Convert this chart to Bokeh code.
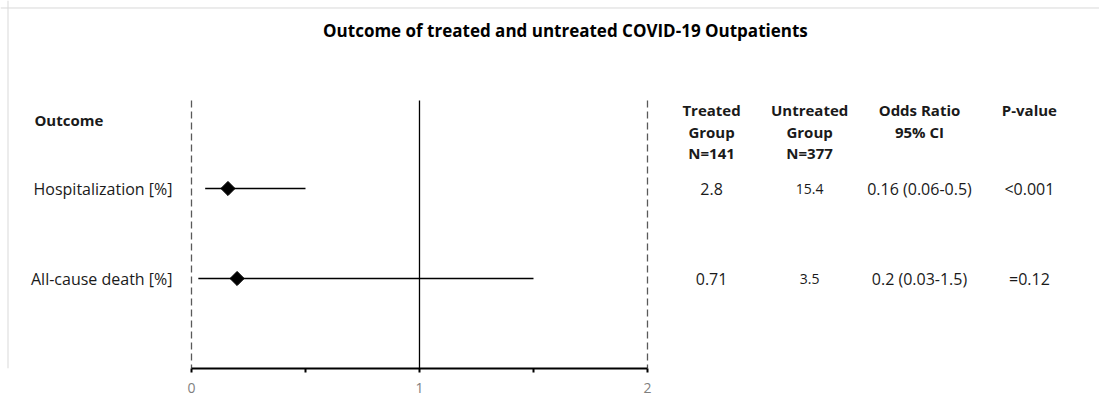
from bokeh.plotting import figure
from bokeh.models import Range1d, LinearAxis, FixedTicker, ColumnDataSource, Span
from bokeh.core.properties import value
from bokeh.embed import file_html
from bokeh.resources import INLINE

# ---- data ----
title_text = "Outcome of treated and untreated COVID-19 Outpatients"
outcomes = ["Hospitalization [%]", "All-cause death [%]"]
odds_ratio = [0.16, 0.2]
ci_low = [0.06, 0.03]
ci_high = [0.5, 1.5]
treated = ["2.8", "0.71"]
untreated = ["15.4", "3.5"]
or_ci = ["0.16 (0.06-0.5)", "0.2 (0.03-1.5)"]
p_values = ["<0.001", "=0.12"]
col_headers = [["Treated", "Group", "N=141"],
               ["Untreated", "Group", "N=377"],
               ["Odds Ratio", "95% CI"],
               ["P-value"]]
axis_ticks = [0, 1, 2]
axis_minor = [0.5, 1.5]
ref_line = 1
bound_lines = [0, 2]

FONT = "Open Sans"

W, H = 1099, 400
p = figure(width=W, height=H, output_backend="svg", toolbar_location=None,
           x_range=Range1d(-0.8377, 3.9825), y_range=Range1d(2.0, -2.0889),
           min_border_left=0, min_border_right=0, min_border_top=0,
           min_border_bottom=32, x_axis_location=None, y_axis_location=None)
p.grid.visible = False
p.outline_line_color = None
p.background_fill_color = "white"
p.border_fill_color = "white"

# faint chart-area border (top and left)
p.add_layout(Span(location=-2.0056, dimension="width", line_color="#d9d9d9",
                  line_width=1))
p.add_layout(Span(location=-0.8048, dimension="height", line_color="#d9d9d9",
                  line_width=1))

# axis
ax = LinearAxis(ticker=FixedTicker(ticks=axis_ticks, minor_ticks=axis_minor),
                bounds=(0, 2))
ax.axis_line_width = 2
ax.axis_line_color = "black"
ax.major_tick_in = 0
ax.major_tick_out = 4
ax.major_tick_line_width = 2
ax.minor_tick_in = 0
ax.minor_tick_out = 4
ax.minor_tick_line_width = 2
ax.major_label_text_color = "#7f7f7f"
ax.major_label_text_font = FONT
ax.major_label_text_font_size = "14px"
ax.major_label_standoff = 10
p.add_layout(ax, "below")

rows = list(range(len(outcomes)))
top = -0.978
bottom = 2.0

# vertical reference lines
for xb in bound_lines:
    p.segment(x0=[xb], y0=[top], x1=[xb], y1=[bottom], line_color="#595959",
              line_width=1.3, line_dash="7 4")
p.segment(x0=[ref_line], y0=[top], x1=[ref_line], y1=[bottom],
          line_color="black", line_width=1.3)

src = ColumnDataSource(dict(y=rows, outcome=outcomes, orr=odds_ratio,
                            lo=ci_low, hi=ci_high, tr=treated, un=untreated,
                            orci=or_ci, pv=p_values))

# CI lines and diamonds
p.segment(x0="lo", y0="y", x1="hi", y1="y", source=src, line_color="black",
          line_width=1.3)
p.scatter(x="orr", y="y", source=src, marker="square", size=10, angle=0.7854,
          fill_color="black", line_color="black")

TXT = "#1a1a1a"
# row labels
p.text(x=-0.0833, y="y", text="outcome", source=src, text_align="right",
       text_baseline="middle", text_font=value(FONT), text_font_size="16px",
       text_color=TXT)

# table columns
col_x = [2.281, 2.711, 3.193, 3.675]
p.text(x=col_x[0], y="y", text="tr", source=src, text_align="center",
       text_baseline="middle", text_font=value(FONT), text_font_size="16px",
       text_color=TXT)
p.text(x=col_x[1], y="y", text="un", source=src, text_align="center",
       text_baseline="middle", text_font=value(FONT), text_font_size="14px",
       text_color=TXT)
p.text(x=col_x[2], y="y", text="orci", source=src, text_align="center",
       text_baseline="middle", text_font=value(FONT), text_font_size="16px",
       text_color=TXT)
p.text(x=col_x[3], y="y", text="pv", source=src, text_align="center",
       text_baseline="middle", text_font=value(FONT), text_font_size="16px",
       text_color=TXT)

# headers
line_y = [-0.867, -0.633, -0.389]
hx, hy, ht = [], [], []
for cx, lines in zip(col_x, col_headers):
    for i, t in enumerate(lines):
        hx.append(cx)
        hy.append(line_y[i])
        ht.append(t)
p.text(x=hx, y=hy, text=ht, text_align="center", text_baseline="middle",
       text_font=value(FONT), text_font_size="15px", text_font_style="bold",
       text_color=TXT)
p.text(x=[-0.689], y=[-0.756], text=["Outcome"], text_align="left",
       text_baseline="middle", text_font=value(FONT), text_font_size="15px",
       text_font_style="bold", text_color=TXT)

# title
p.text(x=[1.640], y=[-1.756], text=[title_text], text_align="center",
       text_baseline="middle", text_font=value(FONT), text_font_size="17px",
       text_font_style="bold", text_color="black")

open("out.html", "w").write(file_html(p, INLINE))
